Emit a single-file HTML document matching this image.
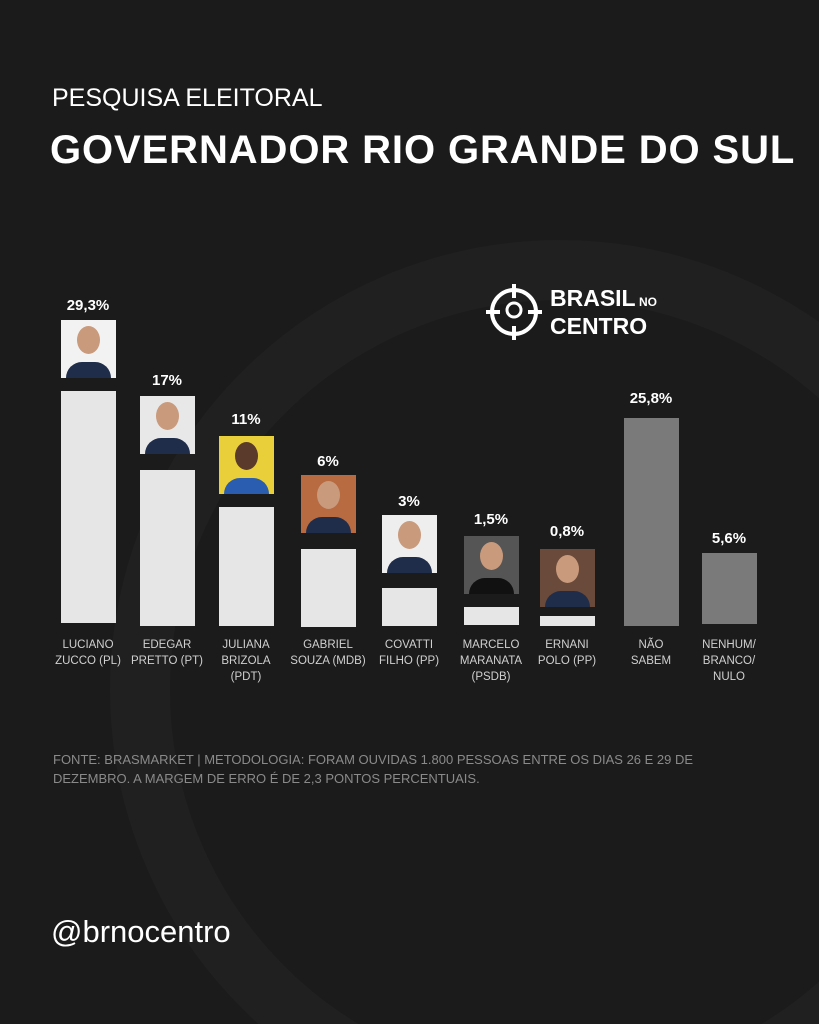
<!DOCTYPE html>
<html><head><meta charset="utf-8"><style>
html,body{margin:0;width:819px;height:1024px;overflow:hidden}
body{background:#1b1b1b;font-family:"Liberation Sans",sans-serif;position:relative}
.a{position:absolute}
.bar{position:absolute;width:55px;background:#e6e6e6}
.g{background:#7a7a7a}
.p{position:absolute;width:80px;text-align:center;color:#fff;font-weight:bold;font-size:15px}
.ph{position:absolute;width:55px;height:58px;background:#ddd;overflow:hidden}
.ph .h{position:absolute;left:16px;top:6px;width:23px;height:28px;border-radius:50%;background:#c99a7c}
.ph .s{position:absolute;left:5px;bottom:0;width:45px;height:16px;border-radius:20px 20px 0 0;background:#1f2d4a}
.n{position:absolute;width:90px;text-align:center;color:#d0d0d0;font-size:11.5px;line-height:16px;top:637px}
</style></head><body>
<svg class="a" style="left:0;top:0" width="819" height="1024"><circle cx="560" cy="690" r="420" fill="none" stroke="#202020" stroke-width="60"/></svg>
<div class="a" style="left:52px;top:84px;color:#fff;font-size:25px">PESQUISA ELEITORAL</div>
<div class="a" style="left:50px;top:128px;color:#fff;font-size:40px;font-weight:bold;letter-spacing:0.9px;white-space:nowrap">GOVERNADOR RIO GRANDE DO SUL</div>
<svg class="a" style="left:484px;top:282px" width="60" height="60"><circle cx="30" cy="30" r="22" fill="none" stroke="#fff" stroke-width="4"/><path d="M30 2v14M30 44v14M2 30h14M44 30h14" stroke="#fff" stroke-width="4"/><circle cx="30" cy="28" r="7" fill="none" stroke="#fff" stroke-width="3"/></svg>
<div class="a" style="left:550px;top:286px;color:#fff;font-size:23px;line-height:24px;font-weight:bold">BRASIL<span style="font-size:12px"> NO</span><br>CENTRO</div>
<div class="bar" style="left:61px;top:391px;height:232px"></div>
<div class="bar" style="left:140px;top:470px;height:156px"></div>
<div class="bar" style="left:219px;top:507px;height:119px"></div>
<div class="bar" style="left:301px;top:549px;height:78px"></div>
<div class="bar" style="left:382px;top:588px;height:38px"></div>
<div class="bar" style="left:464px;top:607px;height:18px"></div>
<div class="bar" style="left:540px;top:616px;height:10px"></div>
<div class="bar g" style="left:624px;top:418px;height:208px"></div>
<div class="bar g" style="left:702px;top:553px;height:71px"></div>
<div class="ph" style="left:61px;top:320px;background:#f2f2f2"><div class="h"></div><div class="s"></div></div>
<div class="ph" style="left:140px;top:396px;background:#e8e8e8"><div class="h"></div><div class="s"></div></div>
<div class="ph" style="left:219px;top:436px;background:#e9cf3a"><div class="h" style="background:#5a3a2a"></div><div class="s" style="background:#2a5db0"></div></div>
<div class="ph" style="left:301px;top:475px;background:#b86a40"><div class="h"></div><div class="s"></div></div>
<div class="ph" style="left:382px;top:515px;background:#eee"><div class="h"></div><div class="s"></div></div>
<div class="ph" style="left:464px;top:536px;background:#555"><div class="h"></div><div class="s" style="background:#111"></div></div>
<div class="ph" style="left:540px;top:549px;background:#6a4a3a"><div class="h"></div><div class="s"></div></div>
<div class="p" style="left:48px;top:297px">29,3%</div>
<div class="p" style="left:127px;top:372px">17%</div>
<div class="p" style="left:206px;top:411px">11%</div>
<div class="p" style="left:288px;top:453px">6%</div>
<div class="p" style="left:369px;top:493px">3%</div>
<div class="p" style="left:451px;top:511px">1,5%</div>
<div class="p" style="left:527px;top:523px">0,8%</div>
<div class="p" style="left:611px;top:390px">25,8%</div>
<div class="p" style="left:689px;top:530px">5,6%</div>
<div class="n" style="left:43px">LUCIANO<br>ZUCCO (PL)</div>
<div class="n" style="left:122px">EDEGAR<br>PRETTO (PT)</div>
<div class="n" style="left:201px">JULIANA<br>BRIZOLA<br>(PDT)</div>
<div class="n" style="left:283px">GABRIEL<br>SOUZA (MDB)</div>
<div class="n" style="left:364px">COVATTI<br>FILHO (PP)</div>
<div class="n" style="left:446px">MARCELO<br>MARANATA<br>(PSDB)</div>
<div class="n" style="left:522px">ERNANI<br>POLO (PP)</div>
<div class="n" style="left:606px">NÃO<br>SABEM</div>
<div class="n" style="left:684px">NENHUM/<br>BRANCO/<br>NULO</div>
<div class="a" style="left:53px;top:750px;width:700px;color:#8a8a8a;font-size:13px;line-height:19px">FONTE: BRASMARKET | METODOLOGIA: FORAM OUVIDAS 1.800 PESSOAS ENTRE OS DIAS 26 E 29 DE DEZEMBRO. A MARGEM DE ERRO É DE 2,3 PONTOS PERCENTUAIS.</div>
<div class="a" style="left:51px;top:914px;color:#fff;font-size:31px">@brnocentro</div>
</body></html>
